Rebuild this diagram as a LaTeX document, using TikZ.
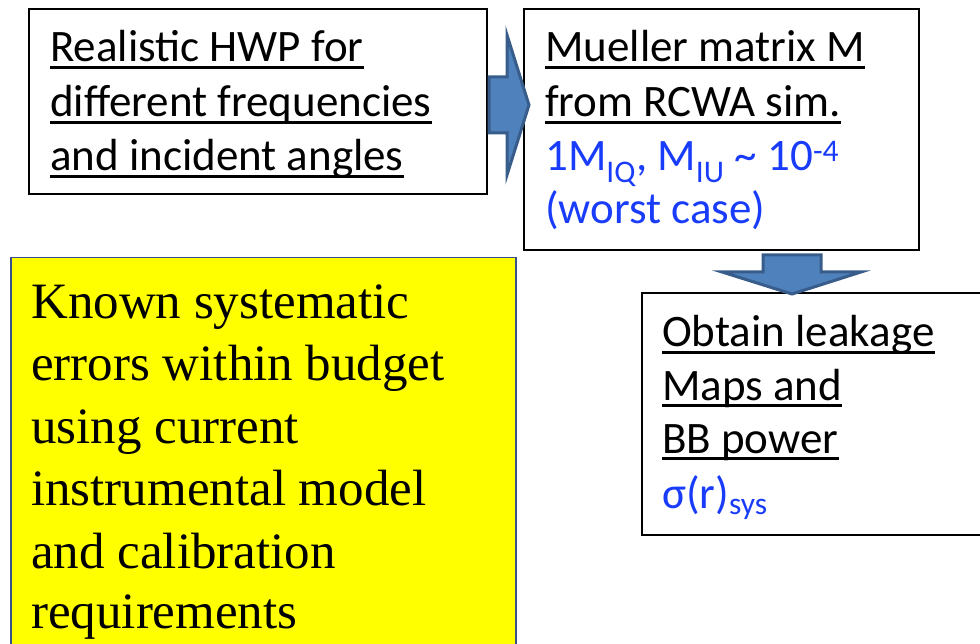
\documentclass[tikz,border=0pt]{standalone}
\usepackage{fontspec}
\setmainfont{Carlito}
\newfontfamily\timesfont{Liberation Serif}
\definecolor{txtblue}{RGB}{25,60,250}
\definecolor{arrfill}{RGB}{79,129,189}
\definecolor{arrline}{RGB}{56,93,138}
\definecolor{ybord}{RGB}{56,80,140}
\definecolor{yfill}{RGB}{255,255,0}
\begin{document}
\begin{tikzpicture}[x=1pt,y=-1pt,
  boxst/.style={draw=black,line width=2pt,inner sep=0pt,anchor=north west},
  ln/.style={anchor=base west,inner sep=0pt,font=\fontsize{45}{54}\selectfont},
  yl/.style={anchor=base west,inner sep=0pt,font=\timesfont\fontsize{51}{62}\selectfont},
  ul/.style={line width=2.5pt},
  arr/.style={fill=arrfill,draw=arrline,line width=3pt,line join=miter}]
\useasboundingbox (0,0) rectangle (980,644);
\clip (0,0) rectangle (980,644);
% boxes
\node[boxst,minimum width=458pt,minimum height=185pt] (b1) at (28,8) {};
\node[boxst,minimum width=395pt,minimum height=241pt] (b2) at (523,8) {};
\node[boxst,minimum width=360pt,minimum height=242pt] (b3) at (641,292) {};
\node[draw=ybord,fill=yfill,line width=1.5pt,inner sep=0pt,anchor=north west,
      minimum width=505pt,minimum height=400pt] (yb) at (10,257) {};
% box 1 text
\node[ln] (t11) at (50,62) {Realistic HWP for};
\node[ln] (t12) at (50,117) {different frequencies};
\node[ln] (t13) at (50,171) {and incident angles};
\foreach \n in {t11,t12,t13}
  \draw[ul] ([yshift=-5.5pt]\n.base west) -- ([yshift=-5.5pt]\n.base east);
% box 2 text
\node[ln] (t21) at (545,62) {Mueller matrix M};
\node[ln] (t22) at (545,117) {from RCWA sim.};
\node[ln,text=txtblue] (t23) at (545,171) {1M\textsubscript{IQ}, M\textsubscript{IU} \textasciitilde{} 10\textsuperscript{-4}};
\node[ln,text=txtblue] (t24) at (545,224) {(worst case)};
\foreach \n in {t21,t22}
  \draw[ul] ([yshift=-5.5pt]\n.base west) -- ([yshift=-5.5pt]\n.base east);
% box 3 text
\node[ln] (t31) at (662,347) {Obtain leakage};
\node[ln] (t32) at (662,400) {Maps and~};
\node[ln] (t33) at (662,453) {BB power};
\node[ln,text=txtblue] (t34) at (662,508) {σ(r)\textsubscript{sys}};
\foreach \n in {t31,t32,t33}
  \draw[ul] ([yshift=-5.5pt]\n.base west) -- ([yshift=-5.5pt]\n.base east);
% yellow text
\node[yl] (y1) at (31,319) {Known systematic};
\node[yl] (y2) at (31,380) {errors within budget};
\node[yl] (y3) at (31,443) {using current};
\node[yl] (y4) at (31,505) {instrumental model};
\node[yl] (y5) at (31,568) {and calibration};
\node[yl] (y6) at (31,628) {requirements};
% arrows
\draw[arr] (489,77) -- (507,77) -- (507,35) -- (529,105) -- (507,175) -- (507,133) -- (489,133) -- cycle;
\draw[arr] (763,255) -- (821,255) -- (821,272) -- (861,272) -- (792,294) -- (722,272) -- (763,272) -- cycle;
\end{tikzpicture}
\end{document}
